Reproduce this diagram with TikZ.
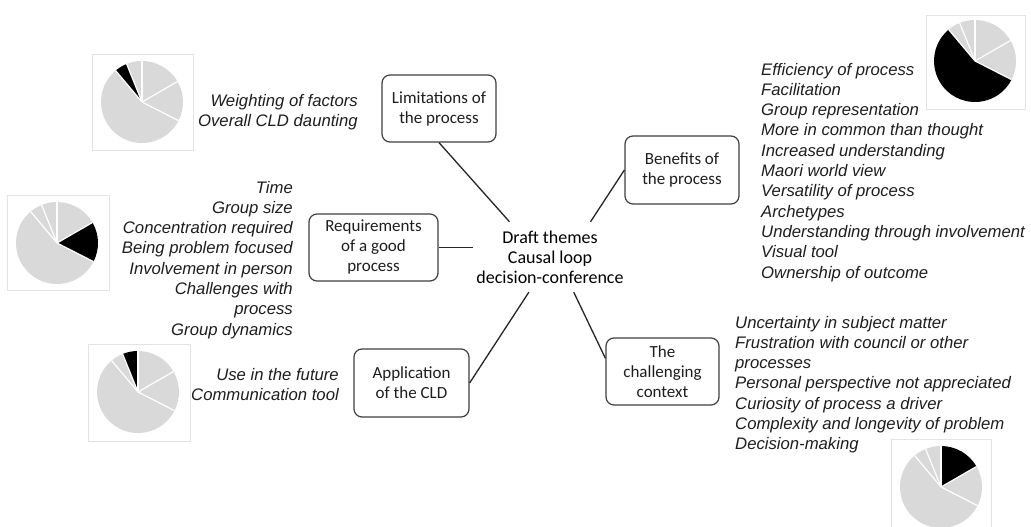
\documentclass[tikz,border=0pt]{standalone}
\usepackage{fontspec}
\setmainfont{Carlito}
\newfontfamily\listfont{Liberation Sans}
\definecolor{boxgrey}{HTML}{404040}
\definecolor{textdark}{HTML}{1E1E1E}
\definecolor{piegrey}{HTML}{D9D9D9}
\definecolor{framegrey}{HTML}{E3E3E3}

% pie of five slices; #3 = index of the slice filled black
\newcommand\piechart[3]{%
  \begin{scope}[shift={(#1,#2)}]
    \foreach \a/\b/\k in {90/30/1,30/-27/2,-27/-230/3,-230/-248/4,-248/-270/5}{
      \ifnum\k=#3\relax\def\slicecol{black}\else\def\slicecol{piegrey}\fi
      \fill[fill=\slicecol] (0,0) -- (\a:41) arc[start angle=\a, end angle=\b, radius=41] -- cycle;}
    \foreach \a in {90,30,-27,130,112}
      \draw[white, line width=1.2pt] (0,0) -- (\a:41);
  \end{scope}}

\begin{document}
\begin{tikzpicture}[x=1pt,y=1pt,
  theme/.style={draw=boxgrey, line width=1.2pt, rounded corners=8pt, inner sep=0pt,
    align=center, text=textdark, font=\fontsize{17}{20}\selectfont},
  items/.style={inner sep=0pt, text=textdark,
    font=\listfont\itshape\fontsize{16.7}{20.3}\selectfont},
  link/.style={line width=1.3pt, draw=black!85},
  pieframe/.style={draw=framegrey, line width=0.8pt}]

\fill[white] (0,0) rectangle (1031,-527);
\useasboundingbox (0,0) rectangle (1031,-527);

% framed pie charts
\draw[pieframe] (92,-54) rectangle (193,-150);
\piechart{142}{-102}{4}
\draw[pieframe] (926,-15) rectangle (1025,-109);
\piechart{975}{-61}{3}
\draw[pieframe] (7,-195) rectangle (109,-290);
\piechart{57}{-243}{2}
\draw[pieframe] (88,-344) rectangle (190,-441);
\piechart{138}{-392}{5}
\draw[pieframe] (891,-439) rectangle (991,-535);
\piechart{941}{-487}{1}

% central theme
\node[font=\fontsize{18}{20}\selectfont, align=center, text=black,
  minimum width=154pt, minimum height=70pt, inner sep=0pt] (hub) at (550,-257)
  {Draft themes\\Causal loop\\decision-conference};

% theme boxes
\node[theme, minimum width=114pt, minimum height=67pt] (lim) at (439,-108.5) {Limitations of\\the process};
\node[theme, minimum width=114pt, minimum height=68pt] (ben) at (682,-170) {Benefits of\\the process};
\node[theme, minimum width=129pt, minimum height=67pt] (req) at (373.5,-247.5) {Requirements\\of a good\\process};
\node[theme, minimum width=115pt, minimum height=68pt] (app) at (411.5,-383) {Application\\of the CLD};
\node[theme, minimum width=113pt, minimum height=67pt] (chal) at (662.5,-371.5) {The\\challenging\\context};

% connectors
\draw[link] (lim.south) -- (hub.139.5);
\draw[link] (ben.west) -- (hub.41.9);
\draw[link] (req.east) -- (hub.west |- req.east);
\draw[link] (app.east) -- (hub.-121.2);
\draw[link] (chal.167) -- (hub.-56);

% item lists
\node[items, anchor=north east, align=right] (limitems) at (358,-93.7)
  {Weighting of factors\\Overall CLD daunting};
\node[items, anchor=north west, align=left] (benitems) at (761,-62.7)
  {Efficiency of process\\Facilitation\\Group representation\\More in common than thought\\Increased understanding\\Maori world view\\Versatility of process\\Archetypes\\Understanding through involvement\\Visual tool\\Ownership of outcome};
\node[items, anchor=north east, align=right] (reqitems) at (293,-180.7)
  {Time\\Group size\\Concentration required\\Being problem focused\\Involvement in person\\Challenges with\\process\\Group dynamics};
\node[items, anchor=north east, align=right] (appitems) at (339,-367.7)
  {Use in the future\\Communication tool};
\node[items, anchor=north west, align=left] (chalitems) at (735,-315.7)
  {Uncertainty in subject matter\\Frustration with council or other\\processes\\Personal perspective not appreciated\\Curiosity of process a driver\\Complexity and longevity of problem\\Decision-making};

\end{tikzpicture}
\end{document}
